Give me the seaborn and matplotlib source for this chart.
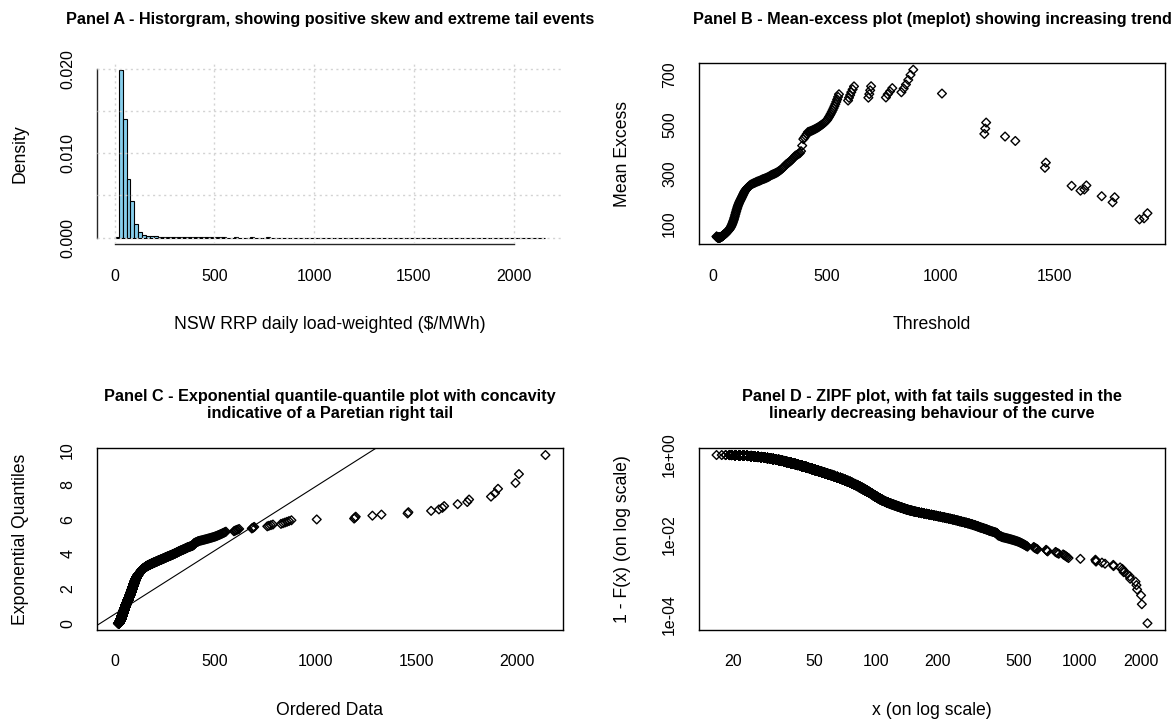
import numpy as np
import matplotlib
matplotlib.use("Agg")
import matplotlib.pyplot as plt
import seaborn as sns

# ---------------------------------------------------------------------------
# NSW regional reference price, daily load-weighted ($/MWh), stored as a
# frequency table: price level -> number of days at that level.
# ---------------------------------------------------------------------------
low_prices = [16.6, 17.6, 18.4, 19.2, 19.7]
low_days = [1, 1, 2, 4, 8]

# $1 bands, $20 - $60 (band mid-points)
band1_prices = np.arange(20.5, 60.0, 1.0)
band1_days = [85, 100, 112, 125, 137, 145, 155, 165, 175, 183,
              190, 194, 196, 196, 194, 190, 185, 180, 172, 165,
              160, 155, 153, 148, 143, 138, 132, 126, 121, 116,
              111, 106, 101, 96, 92, 88, 84, 80, 76, 72]

# $2 bands, $60 - $160
band2_prices = np.arange(61.0, 160.0, 2.0)
band2_days = [142, 134, 127, 121, 115, 110, 105, 100, 96, 91,
              92, 87, 81, 76, 71, 67, 63, 59, 55, 51,
              44, 40, 35, 31, 27, 24, 21, 19, 17, 15,
              14, 13, 13, 12, 12, 11, 11, 10, 10, 9,
              8, 7, 7, 6, 6, 6, 5, 5, 4, 4]

# $5 bands, $160 - $500
band5_prices = np.arange(162.5, 500.0, 5.0)
band5_days = [10, 9, 8, 8, 7, 7, 7, 6,
              6, 6, 6, 6, 5, 5, 5, 5, 5, 5, 5, 5, 4, 4, 4, 4,
              4, 4, 4, 4, 4, 4, 4, 4, 4, 3, 3, 3, 3, 3,
              3, 3, 3, 2, 2, 2, 2,
              3, 6, 6,
              2, 2, 2, 2, 1, 1, 1, 1, 1, 1, 1, 1, 1, 1, 1, 1, 1, 1, 1, 1]

# individual extreme days above $500
tail_prices = [502, 506, 510, 514, 518, 522, 526, 530, 534, 538, 542, 546, 550, 554,
               594, 598, 603, 608, 614, 620,
               683, 687, 691, 695,
               760, 768, 778, 788,
               828, 838, 848, 858, 868, 880,
               1006, 1192, 1196, 1200, 1283, 1328, 1458, 1462,
               1575, 1614, 1631, 1640, 1707, 1755, 1764,
               1873, 1893, 1908, 1995, 2012, 2144]

levels = np.concatenate([low_prices, band1_prices, band2_prices,
                         band5_prices, tail_prices]).astype(float)
days = np.concatenate([low_days, band1_days, band2_days, band5_days,
                       np.ones(len(tail_prices), dtype=int)]).astype(int)
prices = np.sort(np.repeat(levels, days))
n = prices.size

titles = ["Panel A - Historgram, showing positive skew and extreme tail events",
          "Panel B - Mean-excess plot (meplot) showing increasing trend",
          "Panel C - Exponential quantile-quantile plot with concavity\nindicative of a Paretian right tail",
          "Panel D - ZIPF plot, with fat tails suggested in the\nlinearly decreasing behaviour of the curve"]


def mean_excess(values, omit=3):
    """Empirical mean excess over each distinct threshold (evir-style meplot)."""
    x = np.sort(values)
    thr = np.unique(x)
    start = np.searchsorted(x, thr, side="right")
    tail_sum = np.concatenate([np.cumsum(x[::-1])[::-1], [0.0]])
    n_above = x.size - start
    keep = n_above > 0
    thr, start, n_above = thr[keep], start[keep], n_above[keep]
    excess = tail_sum[start] / n_above - thr
    return thr[:-(omit - 1)], excess[:-(omit - 1)]


pp = (np.arange(1, n + 1) - 0.5) / n          # plotting positions
survival = 1.0 - pp                            # 1 - F(x)
exp_quant = -np.log(1.0 - pp)                  # exponential quantiles
me_x, me_y = mean_excess(prices)

# ---------------------------------------------------------------------------
sns.set_style("white")
plt.rcParams["font.family"] = ["Liberation Sans", "DejaVu Sans"]
plt.rcParams["axes.linewidth"] = 1.0
plt.rcParams["text.color"] = "black"
plt.rcParams["axes.labelcolor"] = "black"

W, H = 1171, 720
fig = plt.figure(figsize=(W / 100, H / 100), dpi=100)


def box(l, t, r, b):
    return [l / W, 1 - b / H, (r - l) / W, (b - t) / H]


axA = fig.add_axes(box(97.3, 63.0, 562.7, 244.4))
axB = fig.add_axes(box(699.3, 63.0, 1164.7, 244.4))
axC = fig.add_axes(box(97.3, 448.3, 562.7, 630.0))
axD = fig.add_axes(box(699.3, 448.3, 1164.7, 630.0))

TICK = 11.5
LAB = 12.7
TTL = 11.7
pt_marker = dict(marker="D", s=20, facecolor="none", edgecolor="black",
                 linewidth=1.0, legend=False)

# Panel A: density histogram
sns.histplot(x=prices, bins=np.arange(0, 2161, 20), stat="density",
             color="skyblue", edgecolor="black", linewidth=0.8, alpha=1.0, ax=axA)
axA.set_xlim(-86.4, 2246.4)
axA.set_ylim(-0.0008, 0.0207)
axA.set_xticks([0, 500, 1000, 1500, 2000])
axA.set_xticklabels(["0", "500", "1000", "1500", "2000"])
axA.set_yticks([0, 0.005, 0.010, 0.015, 0.020])
axA.set_yticklabels(["0.000", "", "0.010", "", "0.020"], rotation=90, va="center")
axA.grid(True, color="lightgray", linestyle=(0, (1.5, 2.5)), linewidth=1.0)
axA.set_axisbelow(False)
for s in ("top", "right"):
    axA.spines[s].set_visible(False)
axA.spines["left"].set_bounds(0, 0.020)
axA.spines["bottom"].set_bounds(0, 2000)
axA.set_xlabel("NSW RRP daily load-weighted ($/MWh)")
axA.set_ylabel("Density")

# Panel B: mean excess plot
sns.scatterplot(x=me_x, y=me_y, ax=axB, **pt_marker)
axB.margins(x=0.04, y=0.04)
axB.set_xticks([0, 500, 1000, 1500])
axB.set_xticklabels(["0", "500", "1000", "1500"])
axB.set_yticks(np.arange(100, 701, 100))
axB.set_yticklabels(["100", "", "300", "", "500", "", "700"], rotation=90, va="center")
axB.set_xlabel("Threshold")
axB.set_ylabel("Mean Excess")

# Panel C: exponential QQ plot with least-squares line
sns.scatterplot(x=prices, y=exp_quant, ax=axC, **pt_marker)
axC.margins(x=0.04, y=0.04)
slope, intercept = np.polyfit(prices, exp_quant, 1)
axC.axline((0, intercept), slope=slope, color="black", linewidth=0.8)
axC.set_xticks([0, 500, 1000, 1500, 2000])
axC.set_xticklabels(["0", "500", "1000", "1500", "2000"])
axC.set_yticks([0, 2, 4, 6, 8, 10])
axC.set_yticklabels(["0", "2", "4", "6", "8", "10"], rotation=90, va="center")
axC.set_xlabel("Ordered Data")
axC.set_ylabel("Exponential Quantiles")

# Panel D: ZIPF (empirical survival, log-log)
sns.scatterplot(x=prices, y=survival, ax=axD, **pt_marker)
axD.set_xscale("log")
axD.set_yscale("log")
axD.margins(x=0.04, y=0.04)
zx = [20, 50, 100, 200, 500, 1000, 2000]
axD.set_xticks(zx)
axD.set_xticklabels([str(v) for v in zx])
axD.set_yticks([1, 1e-1, 1e-2, 1e-3, 1e-4])
axD.set_yticklabels(["1e+00", "", "1e-02", "", "1e-04"], rotation=90, va="center")
axD.minorticks_off()
axD.set_xlabel("x (on log scale)")
axD.set_ylabel("1 - F(x) (on log scale)")

for ax, title in zip([axA, axB, axC, axD], titles):
    h_px = ax.get_position().height * H
    w_px = ax.get_position().width * W
    ax.tick_params(axis="both", which="major", direction="out", length=7.9,
                   width=0.8, color="black", labelsize=TICK, labelcolor="black")
    ax.tick_params(axis="x", pad=9.5)
    ax.tick_params(axis="y", pad=8.0)
    ax.xaxis.label.set_size(LAB)
    ax.yaxis.label.set_size(LAB)
    ax.xaxis.set_label_coords(0.5, -80.5 / h_px)
    ax.xaxis.label.set_va("center")
    ax.yaxis.set_label_coords(-77.0 / w_px, 0.5)
    ax.yaxis.label.set_va("center")
    if ax is not axA:
        for s in ax.spines.values():
            s.set_color("black")
            s.set_linewidth(1.0)
    ax.text(0.5, 1 + 43.0 / h_px, title, transform=ax.transAxes, ha="center",
            va="center", fontsize=TTL, fontweight="bold", linespacing=1.15,
            color="black")

fig.savefig("out.png", dpi=100, facecolor="white")
